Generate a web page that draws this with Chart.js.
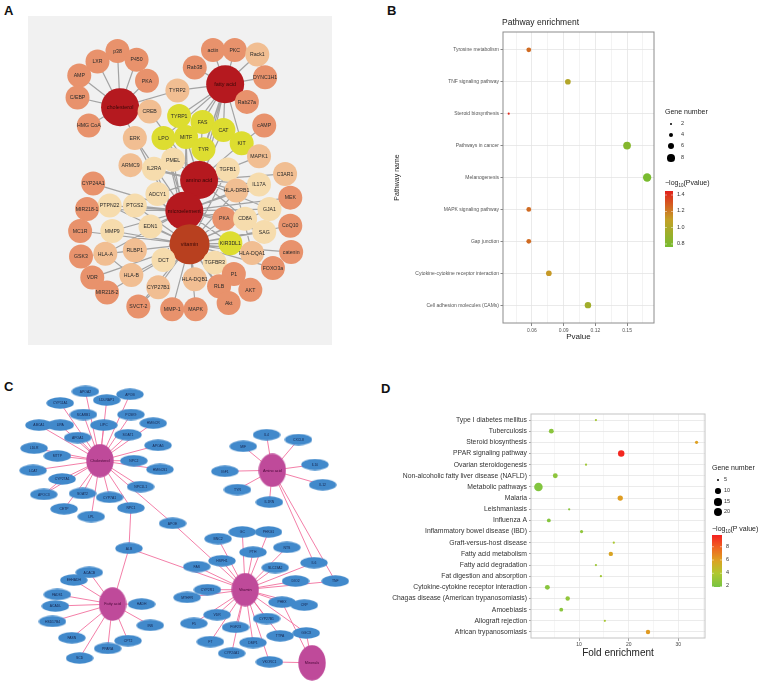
<!DOCTYPE html>
<html><head><meta charset="utf-8">
<script src="https://cdn.jsdelivr.net/npm/chart.js@4"></script>
<style>
body{margin:0;width:767px;height:690px;position:relative;background:#fff;font-family:"Liberation Sans",Arial,sans-serif;overflow:hidden}
canvas{position:absolute}
.lt{position:absolute;font-weight:bold;font-size:13px;line-height:13px;color:#111}
.tx{position:absolute;white-space:nowrap;color:#222;line-height:1}
.dot{position:absolute;background:#000;border-radius:50%}
.sb{font-size:4.5px;position:relative;top:1.5px;vertical-align:baseline}
</style></head>
<body>
<div class="lt" style="left:4px;top:4px">A</div>
<div class="lt" style="left:387px;top:4px">B</div>
<div class="lt" style="left:4px;top:380px">C</div>
<div class="lt" style="left:381px;top:382px">D</div>
<div style="position:absolute;left:28px;top:16px;width:304px;height:329px;background:#F1F1F1"></div>
<canvas id="cA" width="304" height="329" style="left:28px;top:16px;width:304px;height:329px"></canvas>
<canvas id="cB" width="387" height="345" style="left:380px;top:0px;width:387px;height:345px"></canvas>
<canvas id="cC" width="380" height="320" style="left:0px;top:370px;width:380px;height:320px"></canvas>
<canvas id="cD" width="387" height="345" style="left:380px;top:345px;width:387px;height:345px"></canvas>
<div class="tx" style="left:502px;top:18px;font-size:8.5px">Pathway enrichment</div>
<div id="legB"></div>
<div id="legD"></div>
<script>
// ================= Panel A : network =================
const aNodes = ['cholesterol','fatty acid','amino acid','microelement','vitamin','p38','LXR','P450','AMP','PKA','C/EBP','HMG CoA','CREB','TYRP2','actin','PKC','Rack1','Rab38','DYNC1H1','Rab27a','TYRP1','FAS','CAT','LPO','MITF','TYR','KIT','cAMP','ERK','MAPK1','ARMC9','IL2RA','PMEL','TGFB1','C3AR1','CYP24A1','IL17A','HLA-DRB1','ADCY1','MEK','PTPN22','PTGS2','MIR218-1','GJA1','PKA#2','CD8A','EDN1','CoQ10','MC1R','MMP9','SAG','KIR3DL1','catenin','GSK3','HLA-A','RLBP1','DCT','HLA-DQA1','TGFBR3','FOXO3a','P1','VDR','HLA-B','HLA-DQB1','RLB','AKT','MIR218-2','CYP27B1','Akt','SVCT-2','MMP-1','MAPK'];
const aLayoutX = [111,232,202,185,191,108,85,130,64,142,62,75,145,177,218,243,269,197,278,257,179,206,230,161,187,207,251,277,128,271,123,150,172,235,301,80,271,245,154,307,99,128,73,283,231,255,146,307,65,102,277,238,308,66,94,128,161,263,220,287,242,79,124,197,225,261,96,155,236,132,171,198];
const aLayoutY = [97,71,180,215,253,33,45,43,61,67,86,118,102,78,32,32,37,52,63,91,107,114,123,132,131,145,138,118,132,153,163,167,157,168,173,184,185,192,196,200,209,209,213,213,224,224,233,232,238,238,239,252,262,267,264,260,271,263,274,280,287,291,288,293,301,305,308,302,320,324,327,327];
const aGroup = ['h','h','h','h','v','o','o','o','o','o','o','o','p','p','o','o','p','o','o','o','y','y','y','y','y','y','y','o','p','p','p','l','l','l','p','o','l','p','l','o','l','l','o','l','o','l','l','o','o','l','l','y','o','o','p','p','l','p','l','o','o','o','p','p','o','o','o','p','o','o','o','o'];
const aEdges = [
['cholesterol','p38'],['cholesterol','LXR'],['cholesterol','P450'],['cholesterol','AMP'],['cholesterol','PKA'],['cholesterol','C/EBP'],['cholesterol','HMG CoA'],['cholesterol','CREB'],['cholesterol','TYRP2'],['cholesterol','ERK'],
['fatty acid','actin'],['fatty acid','PKC'],['fatty acid','Rack1'],['fatty acid','Rab38'],['fatty acid','DYNC1H1'],['fatty acid','Rab27a'],['fatty acid','TYRP2'],['fatty acid','TYRP1'],['fatty acid','FAS'],['fatty acid','CAT'],['fatty acid','LPO'],['fatty acid','MITF'],['fatty acid','TYR'],['fatty acid','KIT'],['fatty acid','amino acid'],['fatty acid','microelement'],['fatty acid','vitamin'],['Rack1','DYNC1H1'],['KIT','cAMP'],
['amino acid','TYRP1'],['amino acid','FAS'],['amino acid','CAT'],['amino acid','LPO'],['amino acid','MITF'],['amino acid','TYR'],['amino acid','KIT'],['amino acid','PMEL'],['amino acid','IL2RA'],['amino acid','ARMC9'],['amino acid','TGFB1'],['amino acid','MAPK1'],['amino acid','C3AR1'],['amino acid','IL17A'],['amino acid','HLA-DRB1'],['amino acid','ADCY1'],['amino acid','CREB'],['amino acid','microelement'],['amino acid','vitamin'],['amino acid','GJA1'],['amino acid','CD8A'],
['microelement','PTPN22'],['microelement','PTGS2'],['microelement','MIR218-1'],['microelement','ADCY1'],['microelement','EDN1'],['microelement','MMP9'],['microelement','CYP24A1'],['microelement','ERK'],['microelement','PKA#2'],['microelement','CD8A'],['microelement','GJA1'],['microelement','MEK'],['microelement','SAG'],['microelement','HLA-DRB1'],['microelement','vitamin'],['microelement','IL17A'],['microelement','TGFB1'],['microelement','MITF'],['microelement','LPO'],['microelement','TYR'],['microelement','DCT'],['microelement','HLA-A'],['microelement','KIR3DL1'],
['vitamin','GSK3'],['vitamin','HLA-A'],['vitamin','RLBP1'],['vitamin','DCT'],['vitamin','HLA-B'],['vitamin','VDR'],['vitamin','MIR218-2'],['vitamin','CYP27B1'],['vitamin','SVCT-2'],['vitamin','MMP-1'],['vitamin','MAPK'],['vitamin','HLA-DQB1'],['vitamin','RLB'],['vitamin','Akt'],['vitamin','AKT'],['vitamin','P1'],['vitamin','TGFBR3'],['vitamin','FOXO3a'],['vitamin','catenin'],['vitamin','HLA-DQA1'],['vitamin','KIR3DL1'],['vitamin','CoQ10'],['vitamin','SAG'],['vitamin','CD8A'],['vitamin','PKA#2'],['vitamin','EDN1'],['vitamin','MMP9'],['vitamin','PTGS2'],['vitamin','MC1R'],['vitamin','PTPN22'],['vitamin','TYR'],['vitamin','MITF'],['vitamin','LPO'],['vitamin','IL2RA'],['vitamin','ADCY1'],['vitamin','PMEL'],['vitamin','ERK'],['vitamin','GJA1'],['vitamin','HLA-DRB1'],['vitamin','TGFB1'],
['HLA-A','HLA-B'],['MEK','GJA1'],['HLA-DQA1','HLA-DRB1'],['CYP27B1','SVCT-2'],['P1','AKT']
];

// ================= Panel B : pathway enrichment =================
const bPathways = ['Tyrosine metabolism','TNF signaling pathway','Steroid biosynthesis','Pathways in cancer','Melanogenesis','MAPK signaling pathway','Gap junction','Cytokine-cytokine receptor interaction','Cell adhesion molecules (CAMs)'];
const bPvalue = [0.057,0.094,0.038,0.150,0.169,0.057,0.057,0.076,0.113];
const bGeneNumber = [4,5,2,8,9,4,4,5,6];
const bXTicks = [0.06,0.09,0.12,0.15];
const bXMinor = [0.045,0.075,0.105,0.135,0.165];
const bSizeBreaks = [2,4,6,8];
const bColorBreaks = [1.4,1.2,1.0,0.8];

// ================= Panel C : network =================
const cNodes = ['Cholesterol','APOA2','APOB','CYP11A1','LDLRAP1','SCARB1','PCSK9','HMGCR','ABCA1','LIPA','LIPC','SOAT1','APOA1','APOA5','LDLR','MTTP','NPC2','LCAT','CYP27A1','HMGCS1','NPC1L1','APOC3','SOAT2','CYP7A1','CETP','NPC1','LPL','APOE','ALB',
'Amino acid','IL4','CXCL8','MIF','IL10','IGF1','IL12','TYR','IL1RN',
'Vitamin','BNC2','GC','PHKG1','NTS','PTH','HSPH1','FAS','SLC23A2','IL6','DIO2','TNF','CYP2R1','MTHFR','PHEX','CRP','VDR','CYP27B1','F5','FGF23','TTPA','GGCX','F7','DMP1','CYP24A1','VKORC1','Minerals',
'Fatty acid','ACACB','EHHADH','FADS1','ACADL','HSD17B4','HADH','INS','FASN','CPT2','PPARA','SCD'];
const cLayoutX = [97,82,128,56,104,80,129,152,34,56,101,126,74,157,29,53,132,28,58,159,139,39,79,107,60,129,88,172,127,
275,269,302,245,319,226,327,239,272,
247,219,244,271,290,255,223,197,278,318,299,340,208,187,285,308,218,269,194,237,283,310,211,255,233,272,316,
110,86,70,53,51,48,140,149,68,126,105,76];
const cLayoutY = [458,386,389,398,395,410,410,419,421,421,421,431,434,442,445,453,458,468,477,467,485,493,492,496,508,507,516,523,549,
468,431,436,443,462,469,483,488,501,
592,539,532,532,548,553,562,568,569,564,583,583,592,600,605,608,618,622,627,631,640,637,646,647,658,667,668,
607,574,582,597,609,625,607,629,642,645,653,663];
const cHubs = ['Cholesterol','Amino acid','Vitamin','Minerals','Fatty acid'];
const cEdges = [];
['APOA2','APOB','CYP11A1','LDLRAP1','SCARB1','PCSK9','HMGCR','ABCA1','LIPA','LIPC','SOAT1','APOA1','APOA5','LDLR','MTTP','NPC2','LCAT','CYP27A1','HMGCS1','NPC1L1','APOC3','SOAT2','CYP7A1','CETP','NPC1','LPL','APOE'].forEach(n=>cEdges.push(['Cholesterol',n]));
['IL4','CXCL8','MIF','IL10','IGF1','IL12','TYR','IL1RN','IL6','TNF'].forEach(n=>cEdges.push(['Amino acid',n]));
['BNC2','GC','PHKG1','NTS','PTH','HSPH1','FAS','SLC23A2','IL6','DIO2','TNF','CYP2R1','MTHFR','PHEX','CRP','VDR','CYP27B1','F5','FGF23','TTPA','GGCX','F7','DMP1','CYP24A1','VKORC1','APOE','ALB'].forEach(n=>cEdges.push(['Vitamin',n]));
['GGCX','VKORC1','PHEX'].forEach(n=>cEdges.push(['Minerals',n]));
['ACACB','EHHADH','FADS1','ACADL','HSD17B4','HADH','INS','FASN','CPT2','PPARA','SCD','ALB'].forEach(n=>cEdges.push(['Fatty acid',n]));
cEdges.push(['NPC1','ALB'],['CYP27A1','APOC3']);

// ================= Panel D : fold enrichment =================
const dTerms = ['Type I diabetes mellitus','Tuberculosis','Steroid biosynthesis','PPAR signaling pathway','Ovarian steroidogenesis','Non-alcoholic fatty liver disease (NAFLD)','Metabolic pathways','Malaria','Leishmaniasis','Influenza A','Inflammatory bowel disease (IBD)','Graft-versus-host disease','Fatty acid metabolism','Fatty acid degradation','Fat digestion and absorption','Cytokine-cytokine receptor interaction','Chagas disease (American trypanosomiasis)','Amoebiasis','Allograft rejection','African trypanosomiasis'];
const dFoldEnrichment = [13.4,4.4,33.7,18.5,11.4,5.2,1.8,18.3,8.0,3.9,10.5,17.0,16.4,13.4,14.4,3.6,7.7,6.4,15.2,23.9];
const dGeneNumber = [5,9,6,13,5,9,20,10,5,7,6,5,8,5,5,9,8,7,5,8];
const dLogP = [3.6,2.6,6.0,9.6,3.4,2.7,2.3,6.1,2.6,2.4,2.8,3.8,5.8,3.3,3.4,2.5,2.9,2.6,3.7,6.2];
const dXTicks = [10,20,30];
const dXMinor = [5,15,25,35];
const dSizeBreaks = [5,10,15,20];
const dColorBreaks = [8,6,4,2];

// ================= helpers =================
Chart.defaults.font.family = '"Liberation Sans", Arial, sans-serif';
const rgbStr = c => `rgb(${c[0]},${c[1]},${c[2]})`;
function interp(stops, v){
  if (v <= stops[0][0]) return rgbStr(stops[0][1]);
  for (let i=1;i<stops.length;i++){
    if (v <= stops[i][0]){
      const [v0,c0] = stops[i-1], [v1,c1] = stops[i];
      const t = (v-v0)/(v1-v0);
      return rgbStr(c0.map((c,k)=>Math.round(c+(c1[k]-c)*t)));
    }
  }
  return rgbStr(stops[stops.length-1][1]);
}
const bStops = [[0.76,[118,188,47]],[1.1,[196,160,39]],[1.45,[226,32,28]]];
const dStops = [[2,[122,196,66]],[4,[176,200,48]],[6,[222,160,34]],[8,[240,96,32]],[9.8,[244,32,32]]];
const colB = v => interp(bStops, v);
const colD = v => interp(dStops, v);
const sizeB = g => Math.sqrt(Math.max(g-1.5,0.3)*2.3);
const sizeD = g => 0.2 + Math.sqrt(Math.max(g-4.2,0.5)*1.05);

const panelBorder = {id:'panelBorder', afterDatasetsDraw(chart, args, o){
  const {ctx, chartArea:a} = chart; ctx.save(); ctx.strokeStyle=o.color; ctx.lineWidth=o.width;
  ctx.strokeRect(a.left, a.top, a.right-a.left, a.bottom-a.top); ctx.restore(); }};

function buildNetwork(id, area, keys, xs, ys, edges, o){
  const idx = {}; keys.forEach((k,i)=>idx[k]=i);
  const edgeData = [];
  edges.forEach(([a,b])=>{ const i=idx[a], j=idx[b]; if(i===undefined||j===undefined) return;
    edgeData.push({x:xs[i],y:ys[i]},{x:xs[j],y:ys[j]},{x:xs[j],y:null}); });
  const nodeData = keys.map((k,i)=>({x:xs[i],y:ys[i]}));
  return new Chart(document.getElementById(id), {
    type:'scatter',
    data:{datasets:[
      {type:'line', data:edgeData, borderColor:o.edgeColor, borderWidth:o.edgeWidth, pointRadius:0, spanGaps:false, tension:0, order:2, clip:false},
      {data:nodeData, pointStyle:o.pointStyle, pointRadius:o.radius, backgroundColor:o.fill, borderWidth:0, order:1, clip:false}
    ]},
    options:{responsive:false, animation:false, events:[], layout:{padding:0},
      plugins:{legend:{display:false}, tooltip:{enabled:false}},
      scales:{x:{type:'linear',display:false,min:area[0],max:area[1]}, y:{type:'linear',display:false,min:area[2],max:area[3],reverse:true}}},
    plugins:[{id:'nodeLabels', afterDatasetsDraw(chart){
      const meta = chart.getDatasetMeta(1), ctx = chart.ctx;
      ctx.save(); ctx.textAlign='center'; ctx.textBaseline='middle';
      meta.data.forEach((pt,i)=>{ ctx.font=o.font(i); ctx.fillStyle=o.textColor(i); ctx.fillText(keys[i].split('#')[0], pt.x, pt.y+0.3); });
      ctx.restore(); }}]
  });
}

// ---------- A ----------
const aFill = {h:'#B5191F', v:'#B8401F', y:'#DDDD30', o:'#E8926C', p:'#F1BE92', l:'#F6DCAD'};
buildNetwork('cA',[28,332,16,345], aNodes, aLayoutX, aLayoutY, aEdges, {
  edgeColor:'rgba(115,115,115,0.62)', edgeWidth:1.2,
  pointStyle:'circle',
  radius: aGroup.map(g=> g==='h'?19:(g==='v'?20:12)),
  fill: aGroup.map(g=>aFill[g]),
  font: i => (aGroup[i]==='h'||aGroup[i]==='v') ? '5.5px "Liberation Sans"' : '5.2px "Liberation Sans"',
  textColor: i => (aGroup[i]==='h'||aGroup[i]==='v') ? '#3a0808' : '#2a2a2a'
});

// ---------- C ----------
function ellipseImg(w,h,color){
  const c = document.createElement('canvas'); c.width=w; c.height=h;
  const x = c.getContext('2d'); x.fillStyle=color; x.beginPath(); x.ellipse(w/2,h/2,w/2-0.3,h/2-0.3,0,0,Math.PI*2); x.fill();
  return c;
}
const geneImg = ellipseImg(28,12,'#4189CB');
const hubImg = ellipseImg(28,34,'#BF4A9A');
const minImg = ellipseImg(28,36,'#BF4A9A');
buildNetwork('cC',[0,380,370,690], cNodes, cLayoutX, cLayoutY, cEdges, {
  edgeColor:'#F2709E', edgeWidth:0.9,
  pointStyle: cNodes.map(n=> n==='Minerals'?minImg:(cHubs.includes(n)?hubImg:geneImg)),
  radius: 6, fill:'#4189CB',
  font: i => cHubs.includes(cNodes[i]) ? '3.8px "Liberation Sans"' : '3.4px "Liberation Sans"',
  textColor: i => cHubs.includes(cNodes[i]) ? '#4a0838' : '#17244d'
});

// ---------- B ----------
new Chart(document.getElementById('cB'), {
  type:'scatter',
  data:{datasets:[{data: bPathways.map((p,i)=>({x:bPvalue[i], y:i})),
    pointRadius: bGeneNumber.map(sizeB), backgroundColor: bPvalue.map(p=>colB(-Math.log10(p))), borderWidth:0, clip:false}]},
  options:{responsive:false, animation:false, events:[],
    layout:{padding:{left:9,right:113,top:32,bottom:1}},
    plugins:{legend:{display:false}, tooltip:{enabled:false}, panelBorder:{color:'#8C8C8C', width:1}},
    scales:{
      x:{type:'linear', min:0.0326, max:0.1755,
        afterBuildTicks: s => { s.ticks = bXTicks.concat(bXMinor).sort((a,b)=>a-b).map(v=>({value:v})); },
        ticks:{callback: v => bXTicks.includes(v) ? v.toFixed(2) : '', font:{size:5}, color:'#555', padding:2, maxRotation:0, autoSkip:false},
        grid:{color: c => bXTicks.includes(c.tick && c.tick.value) ? '#E4E4E4' : '#F0F0F0', lineWidth:0.8, tickLength:3,
              tickColor: c => bXTicks.includes(c.tick && c.tick.value) ? '#666' : 'rgba(0,0,0,0)'},
        border:{display:false},
        title:{display:true, text:'Pvalue', font:{size:8}, color:'#222', padding:{top:0,bottom:2}},
        afterFit: s => { s.height = 21; }},
      y:{type:'linear', reverse:true, min:-0.56, max:8.56,
        afterBuildTicks: s => { s.ticks = bPathways.map((p,i)=>({value:i})); },
        ticks:{callback: v => bPathways[v], font:{size:5}, color:'#555', padding:1.5, autoSkip:false},
        grid:{color:'#E4E4E4', lineWidth:0.8, tickLength:2.5, tickColor:'#666'},
        border:{display:false},
        title:{display:true, text:'Pathway name', font:{size:7}, color:'#222', padding:{top:4,bottom:0}},
        afterFit: s => { s.width = 114; }}
    }},
  plugins:[panelBorder]
});

// ---------- D ----------
new Chart(document.getElementById('cD'), {
  type:'scatter',
  data:{datasets:[{data: dTerms.map((t,i)=>({x:dFoldEnrichment[i], y:i})),
    pointRadius: dGeneNumber.map(sizeD), backgroundColor: dLogP.map(colD), borderWidth:0, clip:false}]},
  options:{responsive:false, animation:false, events:[],
    layout:{padding:{left:0,right:62,top:69,bottom:29}},
    plugins:{legend:{display:false}, tooltip:{enabled:false}, panelBorder:{color:'#C4C4C4', width:1}},
    scales:{
      x:{type:'linear', min:0.3, max:35.4,
        afterBuildTicks: s => { s.ticks = dXTicks.concat(dXMinor).sort((a,b)=>a-b).map(v=>({value:v})); },
        ticks:{callback: v => dXTicks.includes(v) ? String(v) : '', font:{size:5}, color:'#444', padding:1, maxRotation:0, autoSkip:false},
        grid:{color: c => dXTicks.includes(c.tick && c.tick.value) ? '#EBEBEB' : '#F4F4F4', lineWidth:0.8, tickLength:3,
              tickColor: c => dXTicks.includes(c.tick && c.tick.value) ? '#888' : 'rgba(0,0,0,0)'},
        border:{display:false},
        title:{display:true, text:'Fold enrichment', font:{size:10}, color:'#222', padding:{top:0,bottom:2}},
        afterFit: s => { s.height = 23; }},
      y:{type:'linear', reverse:true, min:-0.54, max:19.54,
        afterBuildTicks: s => { s.ticks = dTerms.map((t,i)=>({value:i})); },
        ticks:{callback: v => dTerms[v], font:{size:6.8}, color:'#333', padding:2, autoSkip:false},
        grid:{color:'#E6E6E6', lineWidth:0.8, tickLength:2, tickColor:'#888'},
        border:{display:false},
        afterFit: s => { s.width = 151; }}
    }},
  plugins:[panelBorder]
});

// ---------- legends (HTML text, canvas colour bars) ----------
function legend(el, o){
  let h = `<div class="tx" style="left:${o.x}px;top:${o.sizeTitleY-4}px;font-size:7px">Gene number</div>`;
  o.sizeBreaks.forEach((g,i)=>{ const r=o.sizeFn(g), y=o.sizeY[i];
    h += `<div class="dot" style="left:${o.dotX-r}px;top:${y-r}px;width:${2*r}px;height:${2*r}px"></div>`;
    h += `<div class="tx" style="left:${o.labX}px;top:${y-3}px;font-size:5.5px;color:#333">${g}</div>`; });
  h += `<div class="tx" style="left:${o.x}px;top:${o.colTitleY-4}px;font-size:7px">\u2212log<span class="sb">10</span>(${o.pLabel})</div>`;
  h += `<canvas id="${el}bar" width="${o.barW}" height="${o.barH}" style="left:${o.x}px;top:${o.barTop}px;width:${o.barW}px;height:${o.barH}px"></canvas>`;
  o.colBreaks.forEach(v=>{ const y=o.barTop+(v-o.vTop)/(o.vBot-o.vTop)*o.barH;
    h += `<div class="tx" style="left:${o.x+o.barW+4}px;top:${y-3}px;font-size:5.5px;color:#333">${o.fmt(v)}</div>`; });
  document.getElementById(el).innerHTML = h;
  const cv = document.getElementById(el+'bar').getContext('2d');
  for (let k=0;k<o.barH;k++){ const v=o.vTop+(o.vBot-o.vTop)*(k+0.5)/o.barH; cv.fillStyle=o.colFn(v); cv.fillRect(0,k,o.barW,1); }
  cv.fillStyle='rgba(255,255,255,0.75)';
  o.colBreaks.forEach(v=>{ const y=(v-o.vTop)/(o.vBot-o.vTop)*o.barH; cv.fillRect(0,y-0.3,2,0.6); cv.fillRect(o.barW-2,y-0.3,2,0.6); });
}
legend('legB',{x:665, sizeTitleY:112, sizeBreaks:bSizeBreaks, sizeFn:sizeB, sizeY:[124,135,146,158], dotX:671, labX:681,
  colTitleY:183, pLabel:'Pvalue', colFn:colB, vTop:1.449, vBot:0.763, barTop:191, barW:8, barH:56, colBreaks:bColorBreaks, fmt:v=>v.toFixed(1)});
legend('legD',{x:712, sizeTitleY:468, sizeBreaks:dSizeBreaks, sizeFn:sizeD, sizeY:[480,491,502,512], dotX:718, labX:724,
  colTitleY:529, pLabel:'P value', colFn:colD, vTop:9.8, vBot:1.9, barTop:535, barW:10, barH:52, colBreaks:dColorBreaks, fmt:v=>String(v)});
</script>
</body></html>
